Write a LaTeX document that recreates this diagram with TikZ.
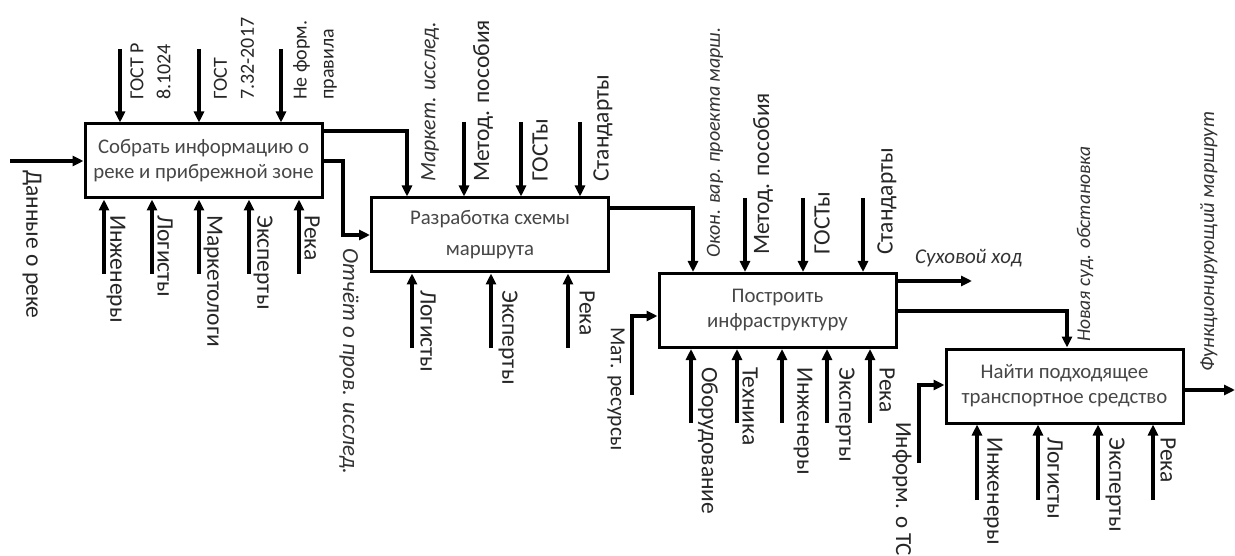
\documentclass[tikz,border=0pt]{standalone}
\usepackage{fontspec}
\setmainfont{Carlito}
\usetikzlibrary{arrows.meta}
\begin{document}
\begin{tikzpicture}[x=1pt,y=-1pt,
  box/.style={draw, line width=3pt, minimum width=237pt, minimum height=74pt, align=center, inner sep=2pt, font=\fontsize{20.8}{25}\selectfont, text=black!72},
  arr/.style={line width=3.2pt, -{Triangle[length=11pt,width=10pt]}},
  lab/.style={inner sep=0pt, font=\fontsize{23.5}{27}\selectfont, align=left, text=black!85},
  two/.style={font=\fontsize{20}{27}\selectfont},
  up/.style={lab, rotate=90, anchor=west},
  down/.style={lab, rotate=-90, anchor=west},
  it/.style={font=\fontsize{#1}{27}\selectfont\itshape, text=black!80},
  it/.default=22.5]
\fill[white] (0,0) rectangle (1235,556);
\useasboundingbox (0,0) rectangle (1235,556);

% boxes
\node[box] (b1) at (203.5,161) {Собрать информацию о\\реке и прибрежной зоне};
\node[box] (b2) at (490,235) {Разработка схемы\\[6pt]маршрута};
\node[box] (b3) at (777.5,310.5) {Построить\\инфраструктуру};
\node[box] (b4) at (1064.5,386) {Найти подходящее\\транспортное средство};

% box 1
\coordinate (i1) at (10,161);
\draw[arr] (i1) -- (b1.west);
\node[down] (li1) at (32,170) {Данные о реке};
\foreach \n/\x in {c11/120, c12/199, c13/281}{
  \coordinate (\n) at (\x,49);
  \draw[arr] (\n) -- (\n |- b1.north);}
\node[up, two] (l11) at (150.5,100) {ГОСТ Р\\8.1024};
\node[up, two] (l12) at (234,100) {ГОСТ\\7.32-2017};
\node[up, two] (l13) at (315,100) {Не форм.\\правила};
\foreach \n/\x in {m11/104, m12/152, m13/199, m14/249, m15/299}{
  \coordinate (\n) at (\x,274);
  \draw[arr] (\n) -- (\n |- b1.south);}
\node[down] (lm11) at (116,215) {Инженеры};
\node[down] (lm12) at (165,215) {Логисты};
\node[down] (lm13) at (213,215) {Маркетологи};
\node[down] (lm14) at (263,215) {Эксперты};
\node[down] (lm15) at (312,215) {Река};

% outputs of box 1
\coordinate (k1) at (407,131);
\draw[arr] (b1.east |- k1) -| (k1 |- b2.north);
\node[up, it=22] (lo11) at (430,182) {Маркет. исслед.};
\coordinate (k2) at (343,235);
\draw[arr] (b1.east) -| (k2) -- (b2.west);
\node[down, it=23] (lo12) at (349,248) {Отчёт о пров. исслед.};

% box 2
\foreach \n/\x in {c21/464, c22/521, c23/580}{
  \coordinate (\n) at (\x,122);
  \draw[arr] (\n) -- (\n |- b2.north);}
\node[up] (l21) at (483,182) {Метод. пособия};
\node[up] (l22) at (540,182) {ГОСТы};
\node[up] (l23) at (603,182) {Стандарты};
\foreach \n/\x in {m21/412, m22/491, m23/568}{
  \coordinate (\n) at (\x,348);
  \draw[arr] (\n) -- (\n |- b2.south);}
\node[down] (lm21) at (428,290) {Логисты};
\node[down] (lm22) at (508,290) {Эксперты};
\node[down] (lm23) at (587,290) {Река};

\coordinate (k3) at (693,208);
\draw[arr] (b2.east |- k3) -| (k3 |- b3.north);
\node[up, it=20] (lo21) at (715,258) {Окон. вар. проекта марш.};

% box 3
\foreach \n/\x in {c31/745, c32/803, c33/863}{
  \coordinate (\n) at (\x,198);
  \draw[arr] (\n) -- (\n |- b3.north);}
\node[up] (l31) at (763,255) {Метод. пособия};
\node[up] (l32) at (822,255) {ГОСТы};
\node[up] (l33) at (887,255) {Стандарты};
\coordinate (s3) at (632,395);
\coordinate (k4) at (632,316);
\draw[arr] (s3) -- (k4) -- (k4 -| b3.west);
\node[down, font=\fontsize{21.5}{27}\selectfont] (li3) at (616,327) {Мат. ресурсы};
\foreach \n/\x in {m31/691, m32/737, m33/782, m34/827, m35/870}{
  \coordinate (\n) at (\x,423);
  \draw[arr] (\n) -- (\n |- b3.south);}
\node[down] (lm31) at (708,367) {Оборудование};
\node[down] (lm32) at (750,367) {Техника};
\node[down] (lm33) at (803,367) {Инженеры};
\node[down] (lm34) at (845,367) {Эксперты};
\node[down] (lm35) at (887,367) {Река};

\coordinate (e1) at (972,281);
\draw[arr] (b3.east |- e1) -- (e1);
\node[lab, it=21, anchor=west] (lo31) at (915,258) {Суховой ход};
\coordinate (k5) at (1067,311);
\draw[arr] (b3.east |- k5) -| (k5 |- b4.north);
\node[up, it=19.5] (lo32) at (1085,342) {Новая суд. обстановка};

% box 4
\coordinate (s4) at (919,463);
\coordinate (k6) at (919,385);
\draw[arr] (s4) -- (k6) -- (k6 -| b4.west);
\node[down, font=\fontsize{23}{27}\selectfont] (li4) at (902,422) {Информ. о ТС};
\foreach \n/\x in {m41/977, m42/1038, m43/1098, m44/1153}{
  \coordinate (\n) at (\x,500);
  \draw[arr] (\n) -- (\n |- b4.south);}
\node[down] (lm41) at (993,437) {Инженеры};
\node[down] (lm42) at (1055,437) {Логисты};
\node[down] (lm43) at (1115,437) {Эксперты};
\node[down] (lm44) at (1168,437) {Река};
\coordinate (e2) at (1235,390);
\draw[arr] (b4.east |- e2) -- (e2);
\node[up, it=20.5] (lo41) at (1209,372) {Функционирующий маршрут};
\end{tikzpicture}
\end{document}
